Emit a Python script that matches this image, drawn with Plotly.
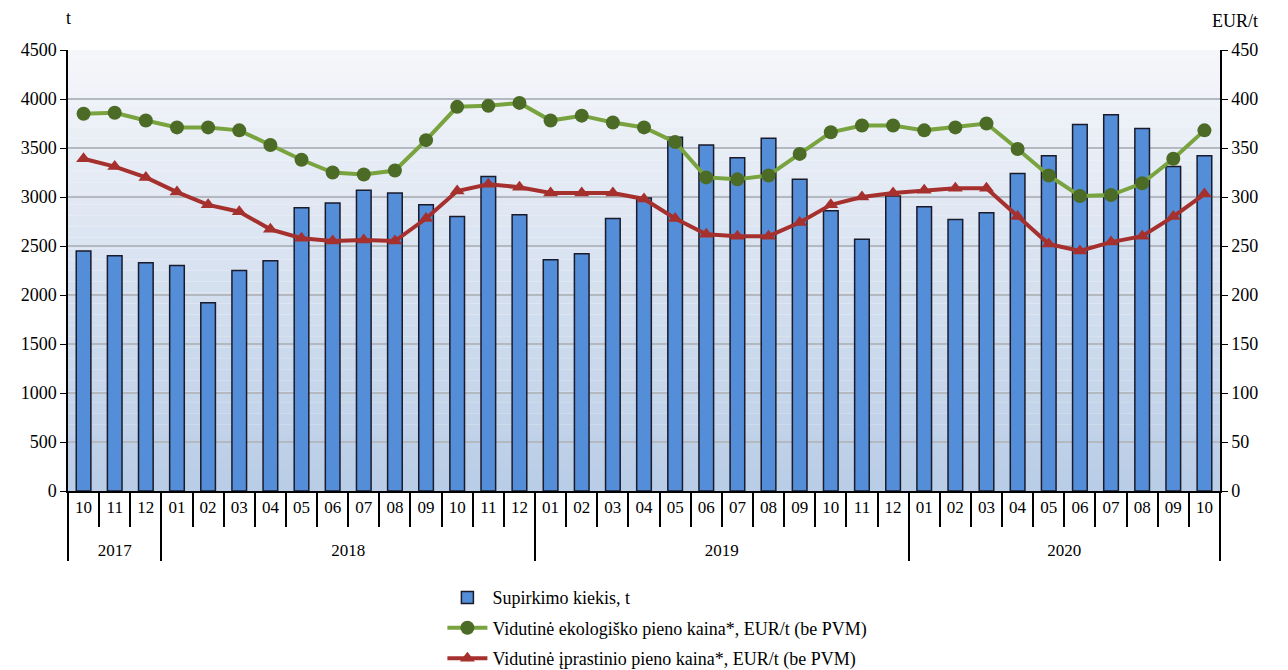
import plotly.graph_objects as go

years = ["2017"] * 3 + ["2018"] * 12 + ["2019"] * 12 + ["2020"] * 10
months = ["10", "11", "12"] + ["%02d" % m for m in range(1, 13)] * 2 + ["%02d" % m for m in range(1, 11)]

kiekis = [2450, 2400, 2330, 2300, 1920, 2250, 2350, 2890, 2940, 3070, 3040, 2920,
          2800, 3210, 2820, 2360, 2420, 2780, 2990, 3610, 3530, 3400, 3600, 3180,
          2860, 2570, 3010, 2900, 2770, 2840, 3240, 3420, 3740, 3840, 3700, 3310, 3420]

eko_kaina = [385, 386, 378, 371, 371, 368, 353, 338, 325, 323, 327, 358,
             392, 393, 396, 378, 383, 376, 371, 356, 320, 318, 322, 344,
             366, 373, 373, 368, 371, 375, 349, 322, 301, 302, 314, 339, 368]

iprast_kaina = [339, 331, 320, 305, 292, 285, 267, 258, 255, 256, 255, 278,
                306, 313, 310, 304, 304, 304, 298, 278, 262, 260, 260, 274,
                292, 300, 304, 307, 309, 309, 280, 252, 245, 254, 260, 280, 303]

names = ["Supirkimo kiekis, t",
         "Vidutinė ekologiško pieno kaina*, EUR/t (be PVM)",
         "Vidutinė įprastinio pieno kaina*, EUR/t (be PVM)"]

font = "Liberation Serif"

# year labels pushed one line down; 2017 month labels wrapped in <span> so that the
# inner category order of the multicategory axis stays chronological
year_labels = ["\u00a0<br>" + y for y in years]
month_labels = [("<span>%s</span>" % m) if y == "2017" else m for y, m in zip(years, months)]
x = [year_labels, month_labels]

fig = go.Figure()
fig.add_trace(go.Bar(x=x, y=kiekis, name=names[0], width=0.47, legendgroup="a",
                     marker=dict(color="#558ed8", line=dict(color="#1a1a2a", width=1.5))))
fig.add_trace(go.Scatter(x=x, y=eko_kaina, name=names[1], yaxis="y2", mode="lines+markers",
                         legendgroup="b",
                         line=dict(color="#78a33e", width=4),
                         marker=dict(symbol="circle", size=14, color="#4c6b26")))
fig.add_trace(go.Scatter(x=x, y=iprast_kaina, name=names[2], yaxis="y2", mode="lines+markers",
                         legendgroup="c",
                         line=dict(color="#a5302d", width=4),
                         marker=dict(symbol="triangle-up", size=13, color="#a5302d")))

# gradient background bands
n = 40
top = (246, 247, 250)
bot = (184, 204, 230)
shapes = []
for i in range(n):
    t = (i + 0.5) / n
    c = tuple(int(round(top[k] + (bot[k] - top[k]) * t)) for k in range(3))
    shapes.append(dict(type="rect", xref="paper", yref="paper", x0=0, x1=1,
                       y0=1 - (i + 1) / n, y1=1 - i / n, layer="below",
                       fillcolor="rgb(%d,%d,%d)" % c, line=dict(width=0)))

fig.update_layout(
    width=1288, height=670,
    margin=dict(l=60, r=76, t=42, b=187, autoexpand=False),
    paper_bgcolor="white", plot_bgcolor="white",
    font=dict(family=font, size=17, color="black"),
    shapes=shapes,
    bargap=0.5,
    xaxis=dict(type="multicategory", showline=True, linecolor="black", linewidth=1.5,
               ticks="outside", tickson="boundaries", ticklen=34, tickcolor="black",
               tickwidth=1.5, showdividers=True, dividercolor="black", dividerwidth=1.5,
               tickfont=dict(family=font, size=17), showgrid=False, automargin=False,
               range=[-0.5, 36.5]),
    yaxis=dict(range=[0, 4500], dtick=500, showline=True, linecolor="black", linewidth=1.5,
               ticks="outside", ticklen=6, tickcolor="black", showgrid=True,
               gridcolor="#b4b8bf", gridwidth=1.5, zeroline=False, automargin=False,
               tickfont=dict(family=font, size=18)),
    yaxis2=dict(range=[0, 450], dtick=50, overlaying="y", side="right", showline=True,
                linecolor="black", linewidth=1.5, ticks="outside", ticklen=6,
                tickcolor="black", showgrid=False, zeroline=False, automargin=False,
                tickfont=dict(family=font, size=18)),
    legend=dict(orientation="v", x=0.325, y=-0.2, xanchor="left", yanchor="top",
                font=dict(family=font, size=18), tracegroupgap=4, traceorder="grouped",
                itemwidth=40, bgcolor="rgba(0,0,0,0)"),
    annotations=[
        dict(text="t", xref="paper", yref="paper", x=0, y=1, xanchor="center",
             yanchor="middle", yshift=32, showarrow=False, font=dict(family=font, size=18)),
        dict(text="EUR/t", xref="paper", yref="paper", x=1.013, y=1, xanchor="center",
             yanchor="middle", yshift=29, showarrow=False, font=dict(family=font, size=18)),
    ],
)

fig.write_html("out.html")
